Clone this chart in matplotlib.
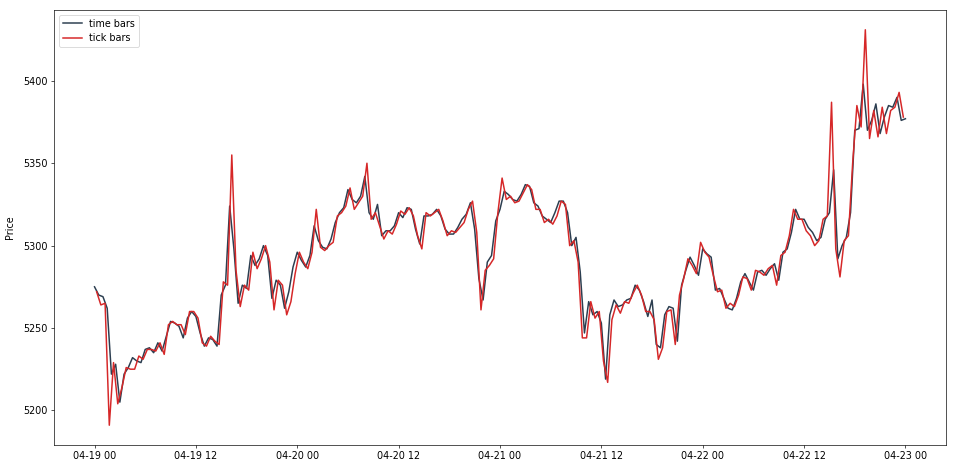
import pandas as pd
import matplotlib
matplotlib.use("Agg")
import matplotlib.pyplot as plt

# 30 min time bars, 04-19 00:00 .. 04-23 00:00
time_bar_prices = [
    5275, 5270, 5269, 5262, 5222, 5228, 5205, 5222, 5226, 5232,
    5230, 5229, 5237, 5238, 5235, 5241, 5236, 5245, 5254, 5253,
    5251, 5244, 5256, 5260, 5257, 5247, 5239, 5244, 5243, 5239,
    5270, 5276, 5324, 5298, 5265, 5276, 5274, 5294, 5288, 5292,
    5300, 5294, 5268, 5279, 5276, 5262, 5272, 5287, 5296, 5291,
    5287, 5294, 5312, 5303, 5299, 5298, 5304, 5314, 5320, 5323,
    5334, 5328, 5326, 5330, 5342, 5320, 5316, 5325, 5306, 5309,
    5309, 5312, 5320, 5317, 5323, 5322, 5310, 5301, 5318, 5318,
    5319, 5322, 5318, 5310, 5307, 5307, 5311, 5316, 5319, 5326,
    5310, 5280, 5267, 5290, 5294, 5315, 5322, 5333, 5331, 5328,
    5327, 5331, 5337, 5336, 5326, 5324, 5318, 5316, 5314, 5320,
    5327, 5327, 5320, 5300, 5305, 5284, 5247, 5266, 5258, 5260,
    5253, 5219, 5258, 5267, 5263, 5264, 5267, 5268, 5276, 5273,
    5266, 5257, 5267, 5240, 5238, 5258, 5263, 5262, 5242, 5276,
    5285, 5293, 5288, 5282, 5298, 5295, 5293, 5273, 5274, 5268,
    5262, 5261, 5268, 5278, 5283, 5278, 5273, 5284, 5285, 5282,
    5286, 5289, 5279, 5296, 5298, 5308, 5322, 5316, 5316, 5311,
    5308, 5303, 5305, 5316, 5320, 5346, 5292, 5300, 5305, 5320,
    5370, 5371, 5398, 5370, 5376, 5386, 5368, 5378, 5385, 5384,
    5390, 5376, 5377,
]

# tick bars, sampled roughly every 30 min starting 00:15
tick_bar_prices = [
    5272, 5264, 5265, 5191, 5229, 5204, 5214, 5226, 5225, 5225,
    5233, 5231, 5237, 5237, 5236, 5241, 5234, 5252, 5254, 5252,
    5252, 5246, 5260, 5260, 5256, 5241, 5239, 5245, 5242, 5240,
    5278, 5276, 5355, 5285, 5263, 5276, 5273, 5296, 5286, 5292,
    5300, 5290, 5261, 5279, 5276, 5258, 5266, 5283, 5296, 5290,
    5286, 5296, 5322, 5299, 5297, 5300, 5302, 5318, 5320, 5324,
    5335, 5322, 5326, 5330, 5350, 5316, 5320, 5312, 5304, 5309,
    5307, 5313, 5321, 5319, 5323, 5318, 5306, 5298, 5320, 5318,
    5320, 5322, 5315, 5306, 5309, 5308, 5311, 5314, 5322, 5327,
    5308, 5261, 5285, 5288, 5292, 5320, 5341, 5328, 5330, 5326,
    5327, 5332, 5337, 5334, 5322, 5322, 5314, 5316, 5313, 5318,
    5327, 5325, 5300, 5303, 5290, 5244, 5244, 5266, 5256, 5260,
    5230, 5217, 5255, 5264, 5259, 5266, 5265, 5271, 5276, 5270,
    5260, 5260, 5255, 5231, 5238, 5260, 5261, 5240, 5270, 5280,
    5292, 5288, 5283, 5302, 5296, 5293, 5282, 5272, 5273, 5262,
    5265, 5263, 5270, 5281, 5280, 5273, 5285, 5284, 5282, 5286,
    5288, 5276, 5294, 5296, 5306, 5322, 5316, 5316, 5309, 5306,
    5300, 5303, 5316, 5318, 5387, 5298, 5281, 5303, 5306, 5350,
    5385, 5372, 5431, 5365, 5382, 5366, 5384, 5368, 5382, 5384,
    5393, 5378,
]

time_idx = pd.date_range("2019-04-19 00:00", periods=len(time_bar_prices), freq="30min")
tick_idx = pd.date_range("2019-04-19 00:15", periods=len(tick_bar_prices), freq="30min")

plt.rcParams["font.size"] = 11.5

fig = plt.figure(figsize=(957 / 60, 469 / 60), dpi=60)
ax = fig.add_axes([0.0564, 0.0512, 0.9321, 0.9275])

ax.plot(time_idx, time_bar_prices, color="#2c3e50", lw=1.8, label="time bars")
ax.plot(tick_idx, tick_bar_prices, color="#d62728", lw=1.8, label="tick bars")

ax.set_ylabel("Price")
ax.yaxis.set_label_coords(-0.044, 0.5)
ax.xaxis.set_major_locator(matplotlib.dates.HourLocator(byhour=[0, 12]))
ax.xaxis.set_major_formatter(matplotlib.dates.DateFormatter("%m-%d %H"))
ax.legend(loc="upper left")

fig.savefig("out.png", dpi=60)
